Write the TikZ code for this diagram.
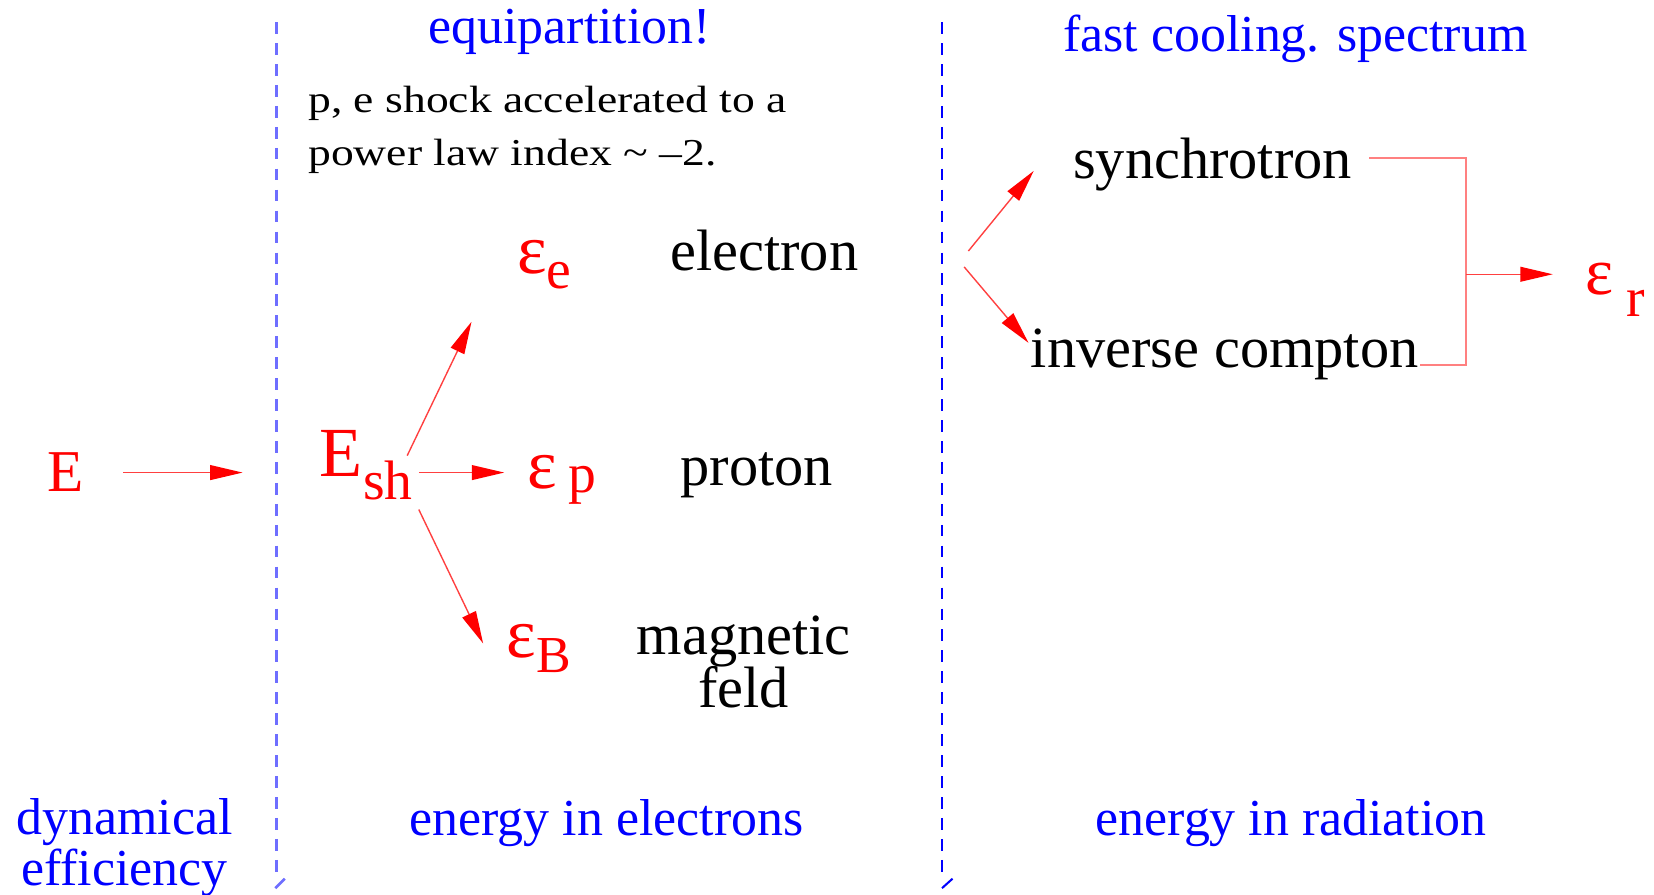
\documentclass[tikz,border=0pt]{standalone}
\usepackage{fontspec}
\setmainfont{Liberation Serif}
\newfontfamily\notefont[FakeStretch=1.2]{Liberation Serif}
\usetikzlibrary{arrows.meta}
\definecolor{lightdiv}{RGB}{110,110,255}
\newcommand\bigsym{\fontsize{38}{38}\selectfont}
\newcommand\subsym{\fontsize{30}{30}\selectfont}
\begin{document}
\begin{tikzpicture}[x=0.02cm,y=-0.02cm,
  lbl/.style={inner sep=0pt, font=\fontsize{31.5}{29}\selectfont, text=black},
  bluelbl/.style={inner sep=0pt, font=\fontsize{28}{27.5}\selectfont, text=blue},
  redlbl/.style={inner sep=0pt, text=red},
  note/.style={inner sep=0pt, font=\notefont\fontsize{20.5}{24}\selectfont},
  arr/.style={draw=red!75, line width=0.75pt, -{Triangle[length=17.5pt,width=8pt,color=red]}},
  brk/.style={draw=red!50, line width=0.9pt},
  divleft/.style={draw=lightdiv, line width=1.4pt, dash pattern=on 6.3pt off 5pt},
  divright/.style={draw=blue, line width=1.1pt, dash pattern=on 6.3pt off 5pt}]
\useasboundingbox (0,0) rectangle (1568,848);

% dividers
\coordinate (l1) at (262,21); \coordinate (l2) at (262,832);
\coordinate (l3) at (261,842); \coordinate (l4) at (270,833);
\coordinate (r1) at (893,21); \coordinate (r2) at (893,832);
\coordinate (r3) at (893,842); \coordinate (r4) at (903,833);
\draw[divleft] (l1) -- (l2);
\draw[draw=lightdiv, line width=1.4pt] (l3) -- (l4);
\draw[divright] (r1) -- (r2);
\draw[draw=blue, line width=1.1pt] (r3) -- (r4);

% headings
\node[bluelbl, anchor=base] (eq) at (540,41) {equipartition!};
\node[bluelbl, anchor=base] (fast) at (1228,49) {fast cooling. spectrum};
\node[note, anchor=base west] (note1) at (292,107) {p, e shock accelerated to a};
\node[note, anchor=base west] (note2) at (292,157) {power law index \char"7E\ \char"2013 2.};

% bottom labels
\node[bluelbl, anchor=base, align=center] (dyn) at (118,839) {dynamical\\efficiency};
\node[bluelbl, anchor=base] (eel) at (575,792) {energy in electrons};
\node[bluelbl, anchor=base] (erad) at (1224,792) {energy in radiation};

% red symbols
\node[redlbl, anchor=base west, font=\fontsize{32}{32}\selectfont] (E) at (45,466) {E};
\node[redlbl, anchor=base west] (Esh) at (303,452) {\bigsym E\raisebox{-12.5pt}{\subsym sh}};
\node[redlbl, anchor=base west] (ee) at (490,259) {\bigsym ε\raisebox{-8pt}{\subsym e}};
\node[redlbl, anchor=base west] (ep) at (500,463) {\bigsym ε\hspace{6pt}\raisebox{-2.3pt}{\subsym p}};
\node[redlbl, anchor=base west] (eB) at (480,623) {\bigsym ε\raisebox{-8.5pt}{\fontsize{28}{28}\selectfont B}};
\node[redlbl, anchor=base west] (er) at (1503,279) {\fontsize{36}{36}\selectfont ε\hspace{7pt}\raisebox{-12pt}{\subsym r}};

% black labels
\node[lbl, anchor=base west] (elec) at (635,256) {electron};
\node[lbl, anchor=base west] (prot) at (645,460) {proton};
\node[lbl, anchor=base, align=center] (magn) at (705,671) {magnetic\\feld};
\node[lbl, anchor=base west] (sync) at (1017,169) {synchrotron};
\node[lbl, anchor=base west] (invc) at (977,348) {inverse compton};

% arrow endpoints
\coordinate (a0s) at (117,448); \coordinate (a0e) at (230,448);
\coordinate (a1s) at (386,432); \coordinate (a1e) at (447,305);
\coordinate (a2s) at (397,448); \coordinate (a2e) at (478,448);
\coordinate (a3s) at (397,483); \coordinate (a3e) at (458,610);
\coordinate (a4s) at (918,238); \coordinate (a4e) at (980,162);
\coordinate (a5s) at (914,253); \coordinate (a5e) at (975,325);
\coordinate (b1) at (1298,150); \coordinate (b2) at (1390,150);
\coordinate (b3) at (1390,346); \coordinate (b4) at (1346,346);
\coordinate (bm) at (1390,260); \coordinate (be) at (1472,260);

\draw[arr] (a0s) -- (a0e);
\draw[arr] (a1s) -- (a1e);
\draw[arr] (a2s) -- (a2e);
\draw[arr] (a3s) -- (a3e);
\draw[arr] (a4s) -- (a4e);
\draw[arr] (a5s) -- (a5e);
\draw[brk] (b1) -- (b2) -- (b3) -- (b4);
\draw[arr] (bm) -- (be);
\end{tikzpicture}
\end{document}
